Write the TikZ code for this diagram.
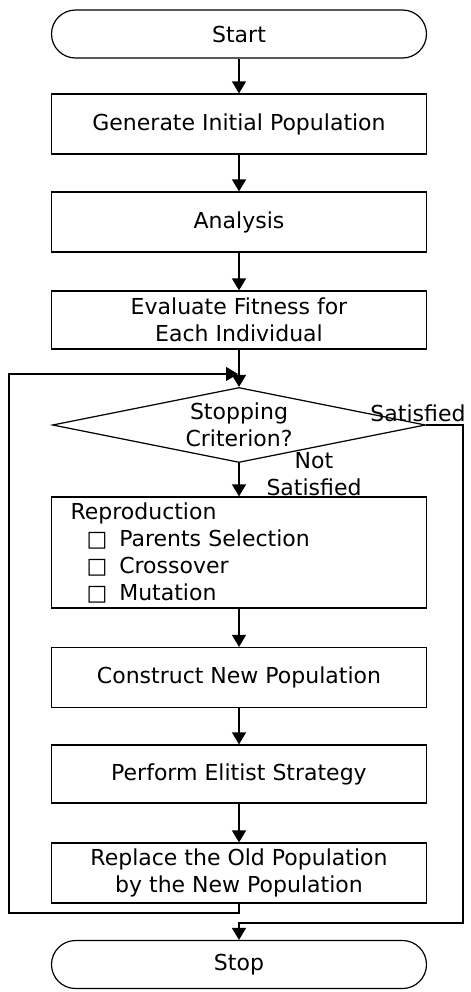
\documentclass[tikz,border=0pt]{standalone}
\usepackage{fontspec}
\setmainfont{DejaVu Sans}
\usetikzlibrary{shapes.geometric,arrows.meta}
\newcommand{\boxitem}{\hspace*{8pt}{\fontsize{11}{13.5}\selectfont □}\hspace{6pt}}
\begin{document}
\begin{tikzpicture}[x=0.5pt,y=-0.5pt,
  every node/.style={font=\fontsize{11}{13.5}\selectfont},
  box/.style={draw,line width=0.6pt,minimum width=187.5pt,minimum height=30pt,align=center,inner sep=2pt},
  term/.style={draw,line width=0.6pt,rounded corners=12pt,minimum width=187.5pt,minimum height=24pt},
  test/.style={draw,diamond,aspect=5,line width=0.6pt,minimum width=186.5pt,minimum height=37.5pt,inner sep=0pt,align=center},
  arr/.style={line width=0.6pt,-{Triangle[length=6pt,width=7pt]}},
  lbl/.style={align=center,inner sep=0pt}]
\useasboundingbox (0,0) rectangle (471,992);
\node[term] (start) at (239,34) {Start};
\node[box] (init) at (239,124) {Generate Initial Population};
\node[box] (anal) at (239,222) {Analysis};
\node[box,minimum height=29pt] (eval) at (239,320) {Evaluate Fitness for\\Each Individual};
\node[test] (stopq) at (239,425) {Stopping\\Criterion?};
\node[box,minimum height=55.5pt,text width=168.5pt,inner xsep=9.5pt,align=left] (repro) at (239,552.5) {Reproduction\\\boxitem Parents Selection\\\boxitem Crossover\\\boxitem Mutation};
\node[box] (constr) at (239,677.5) {Construct New Population};
\node[box,minimum height=29pt] (elite) at (239,774) {Perform Elitist Strategy};
\node[box] (repl) at (239,873) {Replace the Old Population\\by the New Population};
\node[term] (stop) at (239,964.5) {Stop};
\node[lbl] (sat) at (418,413) {Satisfied};
\node[lbl] (notsat) at (314,474) {Not\\Satisfied};
\coordinate (join) at (238,374);
\draw[arr] (start) -- (init);
\draw[arr] (init) -- (anal);
\draw[arr] (anal) -- (eval);
\draw[arr] (eval) -- (stopq);
\draw[arr] (stopq) -- (repro);
\draw[arr] (repro) -- (constr);
\draw[arr] (constr) -- (elite);
\draw[arr] (elite) -- (repl);
\draw[arr] (repl.south) |- (9,913) |- (join);
\draw[arr] (stopq.east) -| (463,923) -| (stop.north);
\end{tikzpicture}
\end{document}
